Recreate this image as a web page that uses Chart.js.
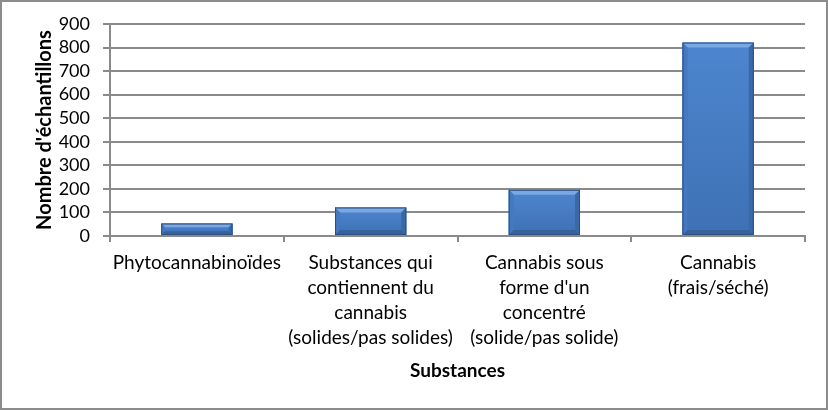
<!DOCTYPE html>
<html>
<head>
<meta charset="utf-8">
<script src="https://cdn.jsdelivr.net/npm/chart.js@4.4.1/dist/chart.umd.min.js"></script>
<style>
  html, body { margin: 0; padding: 0; background: #fff; }
  .frame { width: 828px; height: 410px; box-sizing: border-box; border: 2px solid #8c8c8c; background: #fff; }
  .frame canvas { display: block; }
</style>
</head>
<body>
<div class="frame">
  <canvas id="myChart" width="824" height="406"></canvas>
</div>
<script>
// categories and counts
const categories = [
  ['Phytocannabinoïdes'],
  ['Substances qui', 'contiennent du', 'cannabis', '(solides/pas solides)'],
  ['Cannabis sous', "forme d'un", 'concentré', '(solide/pas solide)'],
  ['Cannabis', '(frais/séché)']
];
const sampleCounts = [53, 121, 196, 821];
const yTicks = [0, 100, 200, 300, 400, 500, 600, 700, 800, 900];

const fontFamily = 'Lato, "Open Sans", sans-serif';
const gridGray = '#8a8a8a';

// excel style bevel drawn over each bar
const bevel = {
  id: 'bevel',
  afterDatasetsDraw(chart) {
    const ctx = chart.ctx;
    chart.getDatasetMeta(0).data.forEach(bar => {
      const l = bar.x - bar.width / 2, r = bar.x + bar.width / 2;
      const t = bar.y, b = bar.base;
      const d = Math.min(5, (b - t) / 3);
      ctx.save();
      // body
      const g = ctx.createLinearGradient(0, t, 0, b);
      g.addColorStop(0, '#4d86cf');
      g.addColorStop(1, '#3e71b4');
      ctx.fillStyle = g;
      ctx.fillRect(l, t, r - l, b - t);
      // top face
      ctx.fillStyle = '#79a8e4';
      ctx.beginPath();
      ctx.moveTo(l, t); ctx.lineTo(r, t); ctx.lineTo(r - d, t + d); ctx.lineTo(l + d, t + d); ctx.closePath();
      ctx.fill();
      // left face
      ctx.fillStyle = '#4479c0';
      ctx.beginPath();
      ctx.moveTo(l, t); ctx.lineTo(l + d, t + d); ctx.lineTo(l + d, b - d); ctx.lineTo(l, b); ctx.closePath();
      ctx.fill();
      // right face
      ctx.fillStyle = '#3a69a8';
      ctx.beginPath();
      ctx.moveTo(r, t); ctx.lineTo(r - d, t + d); ctx.lineTo(r - d, b - d); ctx.lineTo(r, b); ctx.closePath();
      ctx.fill();
      // bottom face
      ctx.fillStyle = '#36619c';
      ctx.beginPath();
      ctx.moveTo(l, b); ctx.lineTo(l + d, b - d); ctx.lineTo(r - d, b - d); ctx.lineTo(r, b); ctx.closePath();
      ctx.fill();
      ctx.strokeStyle = '#2d4f80';
      ctx.lineWidth = 1;
      ctx.strokeRect(l + 0.5, t + 0.5, r - l - 1, b - t - 1);
      ctx.restore();
    });
  }
};

const ctx = document.getElementById('myChart').getContext('2d');
const myChart = new Chart(ctx, {
  type: 'bar',
  data: {
    labels: categories,
    datasets: [{
      data: sampleCounts,
      backgroundColor: '#4479bf',
      borderWidth: 0,
      barPercentage: 0.41,
      categoryPercentage: 1
    }]
  },
  options: {
    responsive: false,
    animation: false,
    layout: { padding: { top: 22, right: 21, left: 0, bottom: 0 } },
    plugins: { legend: { display: false }, tooltip: { enabled: false } },
    scales: {
      x: {
        afterFit: (s) => { s.height = 172; },
        grid: { drawOnChartArea: false, drawTicks: true, tickLength: 6, color: gridGray, lineWidth: 2 },
        border: { display: true, color: gridGray, width: 2 },
        ticks: {
          color: '#000', maxRotation: 0, autoSkip: false, padding: 9,
          font: { family: fontFamily, size: 19, lineHeight: 1.3 }
        },
        title: {
          display: true, text: 'Substances', color: '#000',
          font: { family: fontFamily, size: 19, weight: 'bold' },
          padding: { top: 0, bottom: 26 }
        }
      },
      y: {
        min: 0, max: 900,
        afterFit: (s) => { s.width = 108; },
        afterBuildTicks: (s) => { s.ticks = yTicks.map(v => ({ value: v })); },
        grid: { color: gridGray, lineWidth: 2, tickLength: 7 },
        border: { display: true, color: gridGray, width: 2 },
        ticks: {
          color: '#000', padding: 13, autoSkip: false, stepSize: 100,
          font: { family: fontFamily, size: 18, lineHeight: 1 }
        },
        title: {
          display: true, text: "Nombre d'échantillons", color: '#000',
          font: { family: fontFamily, size: 20, weight: 'bold' },
          padding: { top: 31, bottom: 0 }
        }
      }
    }
  },
  plugins: [bevel]
});
</script>
</body>
</html>
